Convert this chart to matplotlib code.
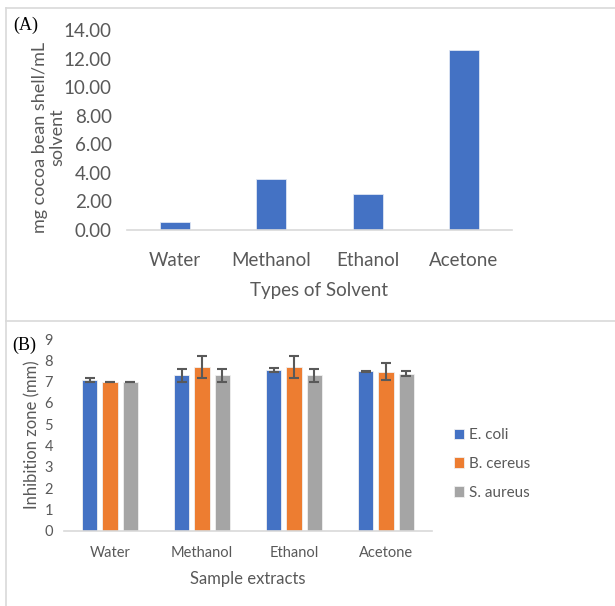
import numpy as np
import matplotlib
matplotlib.use("Agg")
import matplotlib.pyplot as plt
from matplotlib.lines import Line2D

# Panel A data
solvents = ["Water", "Methanol", "Ethanol", "Acetone"]
extract_yield = [0.54, 3.59, 2.50, 12.57]

# Panel B data
extracts = ["Water", "Methanol", "Ethanol", "Acetone"]
bacteria = ["E. coli", "B. cereus", "S. aureus"]
ecoli = [7.07, 7.3, 7.55, 7.48]
ecoli_err = [0.1, 0.3, 0.1, 0.02]
bcereus = [7.0, 7.68, 7.68, 7.47]
bcereus_err = [0.0, 0.5, 0.5, 0.4]
saureus = [7.0, 7.3, 7.3, 7.38]
saureus_err = [0.0, 0.3, 0.3, 0.1]
y_ticks_a = [0, 2, 4, 6, 8, 10, 12, 14]
y_ticks_b = list(range(0, 10))

colors = ["#4472C4", "#ED7D31", "#A5A5A5"]
text_col = "#595959"
plt.rcParams['font.family'] = ['Lato', 'DejaVu Sans']

fig = plt.figure(figsize=(6.15, 6.06), dpi=100)

# panel frames
W, H = 615, 606
def fx(px):
    return px / W
def fy(py):
    return 1 - py / H
frame = "#d9d9d9"
fig.add_artist(Line2D([fx(5.5), fx(5.5)], [fy(8), 0], color=frame, lw=1.2))
fig.add_artist(Line2D([fx(5.5), 1], [fy(8), fy(8)], color=frame, lw=1.2))
fig.add_artist(Line2D([fx(5.5), 1], [fy(321), fy(321)], color=frame, lw=1.2))

# ---- Panel A ----
axA = fig.add_axes([fx(127), fy(230), fx(512) - fx(127), fy(30) - fy(230)])
xa = np.arange(len(solvents))
axA.bar(xa, extract_yield, width=0.31, color=colors[0], edgecolor="#dfe6f3", linewidth=0.6)
axA.set_xlim(-0.5, 3.5)
axA.set_ylim(0, 14)
axA.set_yticks(y_ticks_a)
axA.set_yticklabels([f"{v:.2f}" for v in y_ticks_a])
axA.set_xticks(xa)
axA.set_xticklabels(solvents)
for s in ["top", "right", "left"]:
    axA.spines[s].set_visible(False)
axA.spines["bottom"].set_color("#d9d9d9")
axA.spines["bottom"].set_linewidth(1.2)
axA.tick_params(axis="both", length=0, colors=text_col, labelsize=13.5)
axA.tick_params(axis="y", pad=11)
axA.tick_params(axis="x", pad=16)
axA.set_xlabel("Types of Solvent", color=text_col, fontsize=13.5, labelpad=9)
axA.set_ylabel("mg cocoa bean shell/mL\nsolvent", color=text_col, fontsize=13,
               linespacing=1.1)
axA.yaxis.set_label_coords(-0.16, 0.465)
fig.text(fx(13), fy(25), "(A)", family="Liberation Serif", fontsize=13,
         ha="left", va="center", color="black")

# ---- Panel B ----
axB = fig.add_axes([fx(64), fy(530.7), fx(432) - fx(64), fy(339) - fy(530.7)])
xb = np.arange(len(extracts))
bw = 0.167
off = 0.22
series = [(ecoli, ecoli_err), (bcereus, bcereus_err), (saureus, saureus_err)]
for i, (vals, errs) in enumerate(series):
    axB.bar(xb + (i - 1) * off, vals, width=bw, color=colors[i], label=bacteria[i],
            edgecolor="#f0f0f0", linewidth=0.6,
            yerr=errs, error_kw=dict(ecolor=text_col, elinewidth=1.5, capsize=3.5, capthick=1.5))
axB.set_xlim(-0.5, 3.5)
axB.set_ylim(0, 9)
axB.set_yticks(y_ticks_b)
axB.set_xticks(xb)
axB.set_xticklabels(extracts)
for s in ["top", "right", "left"]:
    axB.spines[s].set_visible(False)
axB.spines["bottom"].set_color("#d9d9d9")
axB.spines["bottom"].set_linewidth(1.2)
axB.tick_params(axis="both", length=0, colors=text_col, labelsize=10.5)
axB.tick_params(axis="y", pad=8)
axB.tick_params(axis="x", pad=11)
axB.set_xlabel("Sample extracts", color=text_col, fontsize=12, labelpad=8)
axB.set_ylabel("Inhibition zone (mm)", color=text_col, fontsize=12)
axB.yaxis.set_label_coords(-0.065, 0.5)
fig.text(fx(12), fy(345), "(B)", family="Liberation Serif", fontsize=13,
         ha="left", va="center", color="black")

leg = axB.legend(loc="center left", bbox_to_anchor=(fx(440), fy(464)),
                 bbox_transform=fig.transFigure, frameon=False, fontsize=11,
                 handlelength=0.7, handleheight=0.7, handletextpad=0.3,
                 labelspacing=0.95, labelcolor=text_col)

fig.savefig("out.png", dpi=100, facecolor="white")
